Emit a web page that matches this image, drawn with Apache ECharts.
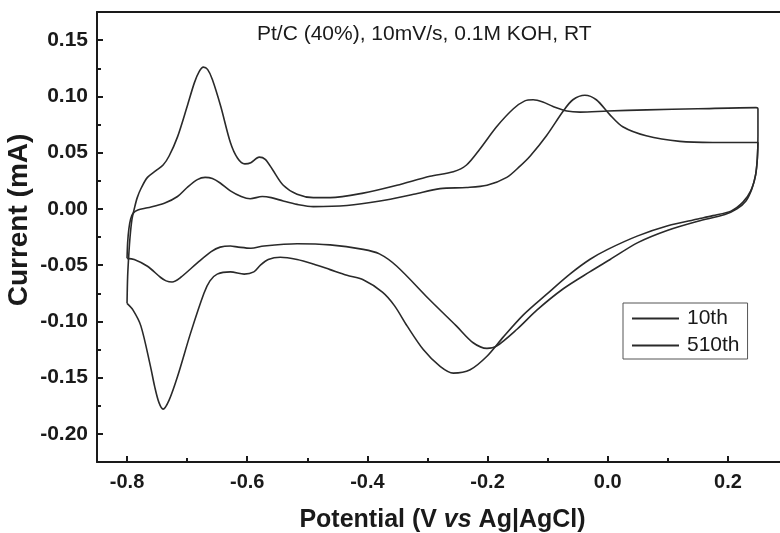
<!DOCTYPE html>
<html>
<head>
<meta charset="utf-8">
<script src="https://cdn.jsdelivr.net/npm/echarts@6/dist/echarts.min.js"></script>
<style>
html,body{margin:0;padding:0;background:#fff;}
#chart{width:780px;height:533px;}
</style>
</head>
<body>
<div id="chart"></div>
<script>
// ---- data ----
var seriesNames = ['10th', '510th'];

var potential10 = [
  -0.800,-0.799,-0.797,-0.795,-0.792,-0.788,-0.783,-0.776,-0.766,-0.752,-0.740,-0.730,-0.716,-0.700,-0.688,-0.680,-0.673,-0.666,-0.658,-0.644,-0.628,-0.616,-0.604,-0.594,-0.580,-0.570,-0.558,-0.540,-0.517,-0.490,-0.462,-0.407,-0.351,-0.296,-0.257,-0.235,-0.213,-0.185,-0.157,-0.138,-0.124,-0.108,-0.091,-0.068,-0.046,0.000,0.065,0.150,0.247,0.250,
  0.250,0.249,0.246,0.238,0.225,0.205,0.175,0.150,0.100,0.050,0.000,-0.030,-0.063,-0.102,-0.140,-0.174,-0.201,-0.229,-0.257,-0.279,-0.307,-0.334,-0.355,-0.375,-0.407,-0.434,-0.462,-0.490,-0.517,-0.545,-0.565,-0.578,-0.589,-0.605,-0.628,-0.650,-0.662,-0.672,-0.694,-0.716,-0.730,-0.740,-0.747,-0.754,-0.761,-0.777,-0.790,-0.800
];
var current10 = [
  -0.084,-0.060,-0.040,-0.025,-0.010,0.000,0.010,0.019,0.028,0.034,0.039,0.047,0.064,0.091,0.112,0.122,0.126,0.124,0.115,0.091,0.059,0.045,0.040,0.041,0.046,0.044,0.035,0.021,0.013,0.010,0.010,0.014,0.021,0.029,0.033,0.039,0.053,0.073,0.089,0.096,0.097,0.095,0.091,0.087,0.086,0.087,0.088,0.089,0.090,0.089,
  0.065,0.045,0.030,0.016,0.006,-0.002,-0.006,-0.009,-0.015,-0.024,-0.036,-0.045,-0.058,-0.076,-0.094,-0.114,-0.131,-0.143,-0.146,-0.140,-0.125,-0.104,-0.086,-0.074,-0.063,-0.059,-0.054,-0.049,-0.045,-0.043,-0.045,-0.050,-0.056,-0.058,-0.056,-0.058,-0.064,-0.075,-0.110,-0.149,-0.170,-0.178,-0.172,-0.158,-0.140,-0.104,-0.090,-0.084
];

var potential510 = [
  -0.800,-0.799,-0.797,-0.794,-0.790,-0.782,-0.766,-0.738,-0.716,-0.700,-0.683,-0.670,-0.658,-0.645,-0.628,-0.610,-0.595,-0.575,-0.560,-0.540,-0.517,-0.490,-0.434,-0.379,-0.323,-0.279,-0.235,-0.201,-0.168,-0.146,-0.129,-0.102,-0.074,-0.058,-0.038,-0.019,0.003,0.025,0.064,0.120,0.175,0.247,0.250,
  0.249,0.246,0.240,0.230,0.215,0.195,0.150,0.100,0.050,0.004,-0.030,-0.074,-0.118,-0.151,-0.185,-0.201,-0.224,-0.252,-0.296,-0.351,-0.380,-0.407,-0.462,-0.517,-0.572,-0.594,-0.615,-0.628,-0.645,-0.660,-0.683,-0.711,-0.725,-0.735,-0.744,-0.766,-0.788,-0.800
];
var current510 = [
  -0.044,-0.030,-0.018,-0.009,-0.004,-0.001,0.001,0.005,0.011,0.019,0.026,0.028,0.027,0.023,0.016,0.011,0.009,0.011,0.010,0.007,0.004,0.002,0.003,0.007,0.013,0.018,0.019,0.021,0.028,0.038,0.047,0.065,0.087,0.097,0.101,0.097,0.084,0.073,0.065,0.060,0.059,0.059,0.059,
  0.045,0.030,0.018,0.007,0.000,-0.005,-0.011,-0.019,-0.030,-0.045,-0.056,-0.071,-0.090,-0.107,-0.122,-0.124,-0.119,-0.104,-0.081,-0.051,-0.040,-0.036,-0.032,-0.031,-0.033,-0.035,-0.034,-0.033,-0.034,-0.038,-0.048,-0.061,-0.065,-0.064,-0.061,-0.051,-0.045,-0.044
];

var xMajorTicks = [-0.8, -0.6, -0.4, -0.2, 0.0, 0.2];
var xMinorTicks = [-0.7, -0.5, -0.3, -0.1, 0.1];
var yMajorTicks = [-0.20, -0.15, -0.10, -0.05, 0.00, 0.05, 0.10, 0.15];
var yMinorTicks = [-0.175, -0.125, -0.075, -0.025, 0.025, 0.075, 0.125];

var annotation = 'Pt/C (40%), 10mV/s, 0.1M KOH, RT';
var xTitle = '{b|Potential (V }{i|vs}{b| Ag|AgCl)}';
var yTitle = 'Current (mA)';

// ---- build ----
function zip(a, b) { return a.map(function (v, i) { return [v, b[i]]; }); }

var FONT = '"Liberation Sans", Arial, sans-serif';
var INK = '#1a1a1a';
var X_MIN = -0.85, X_MAX = 0.3, Y_MIN = -0.225, Y_MAX = 0.175;

var chart = echarts.init(document.getElementById('chart'), null, {renderer: 'canvas'});

function tickAxis(base, pos, values, len) {
  return Object.assign({}, base, {
    position: pos,
    axisLine: {show: false, onZero: false},
    axisTick: {show: true, inside: true, length: len, lineStyle: {color: INK, width: 2}, customValues: values},
    axisLabel: {show: false}
  });
}

var baseX = {type: 'value', min: X_MIN, max: X_MAX, gridIndex: 0, splitLine: {show: false}};
var baseY = {type: 'value', min: Y_MIN, max: Y_MAX, gridIndex: 0, splitLine: {show: false}};

chart.setOption({
  backgroundColor: '#fff',
  animation: false,
  grid: {left: 97, top: 12, right: -8, bottom: 71, containLabel: false, outerBoundsMode: 'none'},
  graphic: [{
    type: 'text', left: 257, top: 24,
    style: {text: annotation, font: '21px ' + FONT, fill: INK}
  }],
  legend: {
    orient: 'vertical', left: 623, top: 303,
    data: seriesNames,
    icon: 'rect',
    itemWidth: 47, itemHeight: 2, itemGap: 6,
    padding: [5, 8, 3, 9],
    borderColor: '#555', borderWidth: 1,
    textStyle: {fontFamily: FONT, fontSize: 21, lineHeight: 20, color: INK, padding: [0, 0, 0, 3]}
  },
  xAxis: [
    Object.assign({}, baseX, {
      position: 'bottom',
      name: xTitle, nameLocation: 'middle', nameGap: 46, nameMoveOverlap: false,
      nameTextStyle: {
        rich: {
          b: {fontFamily: FONT, fontWeight: 'bold', fontSize: 25, color: INK},
          i: {fontFamily: FONT, fontWeight: 'bold', fontStyle: 'italic', fontSize: 25, color: INK}
        }
      },
      axisLine: {show: true, onZero: false, lineStyle: {color: INK, width: 2}},
      axisTick: {show: false},
      axisLabel: {show: true, margin: 10, customValues: xMajorTicks, fontFamily: FONT, fontWeight: 'bold', fontSize: 20, color: INK,
        formatter: function (v) { return v.toFixed(1); }}
    }),
    tickAxis(baseX, 'bottom', xMajorTicks, 6),
    tickAxis(baseX, 'bottom', xMinorTicks, 4),
    Object.assign({}, baseX, {
      position: 'top',
      axisLine: {show: true, onZero: false, lineStyle: {color: INK, width: 2}},
      axisTick: {show: false}, axisLabel: {show: false}
    })
  ],
  yAxis: [
    Object.assign({}, baseY, {
      position: 'left',
      name: yTitle, nameLocation: 'middle', nameGap: 64, nameMoveOverlap: false,
      nameTextStyle: {fontFamily: FONT, fontWeight: 'bold', fontSize: 28, color: INK, padding: [0, 0, 0, 34]},
      axisLine: {show: true, onZero: false, lineStyle: {color: INK, width: 2}},
      axisTick: {show: false},
      axisLabel: {show: true, margin: 9, customValues: yMajorTicks, fontFamily: FONT, fontWeight: 'bold', fontSize: 21, color: INK,
        formatter: function (v) { return v.toFixed(2); }}
    }),
    tickAxis(baseY, 'left', yMajorTicks, 6),
    tickAxis(baseY, 'left', yMinorTicks, 4)
  ],
  series: [
    {
      name: seriesNames[0], type: 'line', xAxisIndex: 0, yAxisIndex: 0,
      data: zip(potential10, current10),
      symbol: 'none', smooth: 0.3, clip: true,
      lineStyle: {color: '#2a2a2a', width: 1.6},
      itemStyle: {color: '#2a2a2a'}
    },
    {
      name: seriesNames[1], type: 'line', xAxisIndex: 0, yAxisIndex: 0,
      data: zip(potential510, current510),
      symbol: 'none', smooth: 0.3, clip: true,
      lineStyle: {color: '#2a2a2a', width: 1.6},
      itemStyle: {color: '#2a2a2a'}
    }
  ]
});
</script>
</body>
</html>
